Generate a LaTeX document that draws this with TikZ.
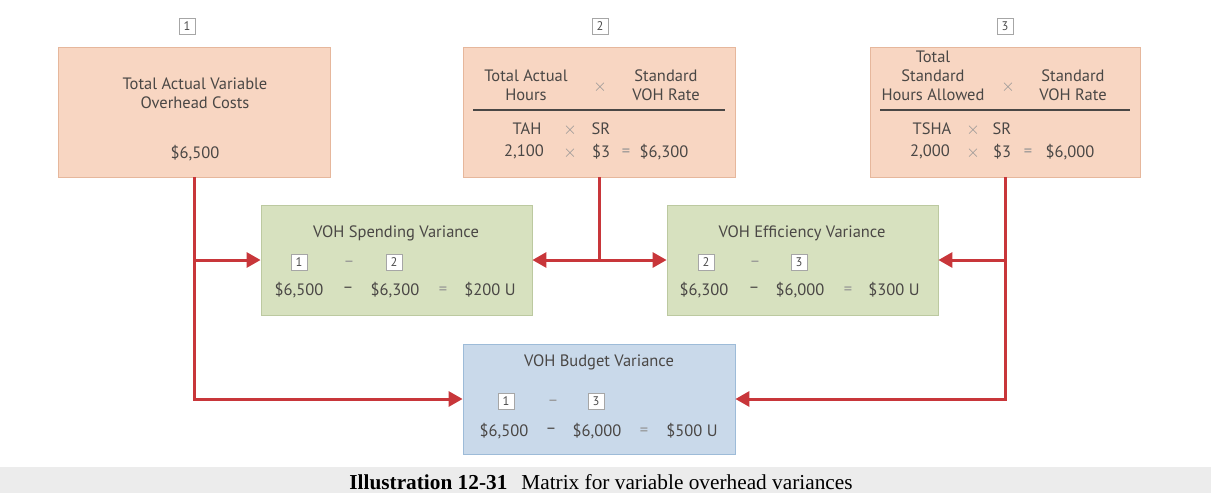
\documentclass[tikz,border=0pt]{standalone}
\usepackage{fontspec}
\setmainfont{Liberation Serif}
\newfontfamily\boxfont{PT Sans}
\usetikzlibrary{positioning}
\usetikzlibrary{arrows.meta}

\definecolor{peach}{HTML}{F8D6C2}
\definecolor{peachline}{HTML}{E6B79C}
\definecolor{sage}{HTML}{D7E1BF}
\definecolor{sageline}{HTML}{BCC9A0}
\definecolor{sky}{HTML}{C9D9EA}
\definecolor{skyline}{HTML}{9DBBD8}
\definecolor{linkred}{HTML}{C8363A}
\definecolor{ink}{HTML}{4A4745}
\definecolor{capgray}{HTML}{ECECEC}

\tikzset{
  box/.style={rectangle, minimum height=130pt, minimum width=272pt, inner sep=0pt, fill=peach, draw=peachline, line width=0.8pt},
  varbox/.style={rectangle, minimum height=110pt, minimum width=271pt, inner sep=0pt, fill=sage, draw=sageline, line width=0.8pt},
  txt/.style={text=ink, font=\boxfont\fontsize{16.5}{19}\selectfont, align=center, inner sep=0pt},
  sym/.style={txt, text=gray!85},
  numbox/.style={rectangle, draw=gray!70, fill=white, minimum size=16pt, inner sep=0pt, text=gray!60!black, font=\boxfont\fontsize{12.5}{12.5}\selectfont},
  link/.style={draw=linkred, line width=3pt, -{Triangle[length=14pt,width=15pt]}},
  trunk/.style={draw=linkred, line width=3pt}
}

\begin{document}
\begin{tikzpicture}[x=1pt, y=-1pt]
\useasboundingbox (0,0) rectangle (1211,493);

% top boxes
\node (b1) at (194,112) [box]{};
\node (b2) at (599,112) [box]{};
\node (b3) at (1005,112) [box, minimum width=270pt]{};
\node (n1) at (187,26) [numbox]{1};
\node (n2) at (600,26) [numbox]{2};
\node (n3) at (1005,26) [numbox]{3};

\node (b1a) at (195,93) [txt]{Total Actual Variable\\Overhead Costs};
\node (b1b) at (195,153) [txt]{\$6,500};

\node (b2a) at (526,85) [txt]{Total Actual\\Hours};
\node (b2x) at (600,87) [sym]{$\times$};
\node (b2b) at (666,85) [txt]{Standard\\VOH Rate};
\draw[ink, line width=1.2pt] (473,110) -- (725,110);
\node (b2c) at (527,129) [txt]{TAH};
\node (b2d) at (570,130) [sym]{$\times$};
\node (b2e) at (601,129) [txt]{SR};
\node (b2f) at (524,152) [txt]{2,100};
\node (b2g) at (570,153) [sym]{$\times$};
\node (b2h) at (601,152) [txt]{\$3};
\node (b2i) at (626,153) [sym]{=};
\node (b2j) at (664,152) [txt]{\$6,300};

\node (b3a) at (933,76) [txt]{Total\\Standard\\Hours Allowed};
\node (b3x) at (1008,87) [sym]{$\times$};
\node (b3b) at (1073,85) [txt]{Standard\\VOH Rate};
\draw[ink, line width=1.2pt] (880,110) -- (1130,110);
\node (b3c) at (932,129) [txt]{TSHA};
\node (b3d) at (973,130) [sym]{$\times$};
\node (b3e) at (1002,129) [txt]{SR};
\node (b3f) at (930,152) [txt]{2,000};
\node (b3g) at (973,153) [sym]{$\times$};
\node (b3h) at (1002,152) [txt]{\$3};
\node (b3i) at (1028,153) [sym]{=};
\node (b3j) at (1070,152) [txt]{\$6,000};

% variance boxes
\node (s1) at (396.5,260) [varbox]{};
\node (s1a) at (396,233) [txt]{VOH Spending Variance};
\node (s1b) at (299,262) [numbox]{1};
\node (s1c) at (349,264) [sym]{–};
\node (s1d) at (394,262) [numbox]{2};
\node (s1e) at (299,290) [txt]{\$6,500};
\node (s1f) at (348,290) [txt]{–};
\node (s1g) at (395,290) [txt]{\$6,300};
\node (s1h) at (443,291) [sym]{=};
\node (s1i) at (490,290) [txt]{\$200 U};

\node (s2) at (802.5,260) [varbox]{};
\node (s2a) at (802,233) [txt]{VOH Efficiency Variance};
\node (s2b) at (706,262) [numbox]{2};
\node (s2c) at (755,264) [sym]{–};
\node (s2d) at (799,262) [numbox]{3};
\node (s2e) at (704,290) [txt]{\$6,300};
\node (s2f) at (754,290) [txt]{–};
\node (s2g) at (800,290) [txt]{\$6,000};
\node (s2h) at (848,291) [sym]{=};
\node (s2i) at (894,290) [txt]{\$300 U};

\node (bv) at (599,399) [varbox, minimum width=272pt, fill=sky, draw=skyline]{};
\node (bva) at (599,362) [txt]{VOH Budget Variance};
\node (bvb) at (506,401) [numbox]{1};
\node (bvc) at (553,403) [sym]{–};
\node (bvd) at (596,401) [numbox]{3};
\node (bve) at (504,431) [txt]{\$6,500};
\node (bvf) at (551,431) [txt]{–};
\node (bvg) at (597,431) [txt]{\$6,000};
\node (bvh) at (644,432) [sym]{=};
\node (bvi) at (692,431) [txt]{\$500 U};

% connectors
\coordinate (j1) at (b1.south |- s1.west);
\coordinate (j2) at (b2.south |- s1.east);
\coordinate (j3) at (b3.south |- s2.east);
\draw[link] (b1.south) |- (bv.west);
\draw[link] (j1) -- (s1.west);
\draw[trunk] (b2.south) -- (j2);
\draw[link] (j2) -- (s1.east);
\draw[link] (j2) -- (s2.west);
\draw[link] (b3.south) |- (bv.east);
\draw[link] (j3) -- (s2.east);

% caption
\fill[capgray] (0,467) rectangle (1211,493);
\node (cap) at (601,482) [font=\fontsize{21.3}{21.3}\selectfont, inner sep=0pt]{\textbf{Illustration 12-31}\hspace{14pt}Matrix for variable overhead variances};
\end{tikzpicture}
\end{document}
